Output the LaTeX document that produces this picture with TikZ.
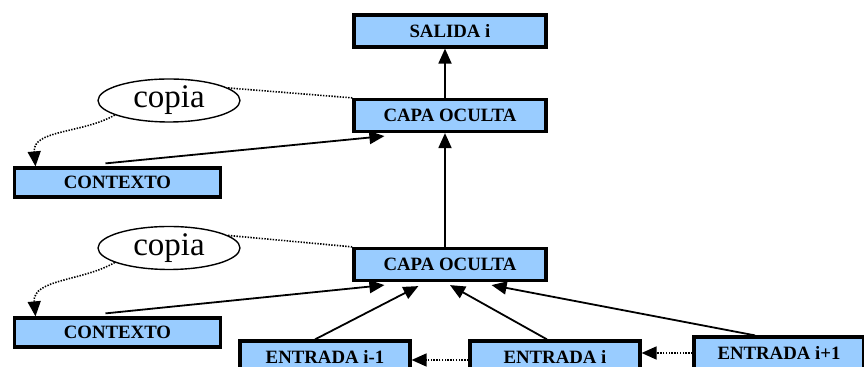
\documentclass[tikz,border=0pt]{standalone}
\usepackage{fontspec}
\setmainfont{Liberation Serif}
\usetikzlibrary{shapes.geometric, arrows.meta, positioning}
\definecolor{layerblue}{RGB}{153,204,255}
\tikzset{
  layerbox/.style={
    draw=black, fill=layerblue, line width=1.6pt,
    minimum width=96pt, minimum height=16pt, inner sep=0pt,
    font=\fontsize{9.4}{10}\selectfont\bfseries
  },
  ctxbox/.style={
    layerbox, minimum width=103pt, minimum height=14.5pt
  },
  inbox/.style={
    layerbox, minimum width=85pt, minimum height=16pt
  },
  copybubble/.style={
    ellipse, draw=black, line width=0.7pt, minimum width=71pt,
    minimum height=21.5pt, inner sep=0pt,
    font=\fontsize{16.5}{18}\selectfont
  },
  netarrow/.style={
    -{Triangle[length=7.5pt,width=6.5pt]}, line width=0.9pt
  },
  copyline/.style={
    dash pattern=on 0.7pt off 0.7pt, line width=0.8pt
  },
  copyarrow/.style={
    copyline, -{Triangle[length=7.5pt,width=6.5pt]}
  },
}
\begin{document}
\begin{tikzpicture}[x=0.5pt,y=-0.5pt]
  \useasboundingbox (0,0) rectangle (864,367);

  %% Layers
  \node[layerbox] (sal) at (450,31) {SALIDA i};
  \node[layerbox] (cap1) at (450,115.5) {CAPA OCULTA};
  \node[layerbox] (cap2) at (450,264.5) {CAPA OCULTA};

  %% Context units
  \node[ctxbox] (ctx1) at (117.5,182.5) {CONTEXTO};
  \node[ctxbox] (ctx2) at (117.5,332.5) {CONTEXTO};
  \node[copybubble] (cop1) at (169,100.5) {copia};
  \node[copybubble] (cop2) at (169,248) {copia};

  %% Inputs
  \node[inbox] (ent1) at (325,357) {ENTRADA i-1};
  \node[inbox] (ent2) at (555,357) {ENTRADA i};
  \node[inbox] (ent3) at (779,353) {ENTRADA i+1};

  %% Forward connections
  \draw[netarrow] ([xshift=-2.5pt]cap1.north) -- ([xshift=-2.5pt]sal.south);
  \draw[netarrow] ([xshift=-2.5pt]cap2.north) -- ([xshift=-2.5pt]cap1.south);
  \draw[netarrow] ([xshift=-6pt,yshift=1.5pt]ctx1.north) -- ([xshift=16pt,yshift=-1.5pt]cap1.south west);
  \draw[netarrow] ([xshift=-6pt,yshift=1.5pt]ctx2.north) -- ([xshift=16pt,yshift=-1.5pt]cap2.south west);
  \draw[netarrow] ([xshift=-5pt]ent1.north) -- ([xshift=33pt,yshift=-2pt]cap2.south west);
  \draw[netarrow] ([xshift=-4pt]ent2.north) -- ([yshift=-1.5pt]cap2.south);
  \draw[netarrow] ([xshift=-12pt]ent3.north) -- ([xshift=-28pt,yshift=-1.5pt]cap2.south east);

  %% Copy connections
  \draw[copyline] (cop1.12) -- (cap1.north west);
  \draw[copyline] (cop2.12) -- (cap2.north west);
  \draw[copyarrow] (cop1.195) to[out=210,in=95] ([xshift=-41pt]ctx1.north);
  \draw[copyarrow] (cop2.195) to[out=210,in=95] ([xshift=-41pt]ctx2.north);
  \draw[copyarrow] ([yshift=-1.5pt]ent2.west) -- ([yshift=-1.5pt]ent1.east);
  \draw[copyarrow] (ent3.west) -- (ent3.west -| ent2.east);

\end{tikzpicture}
\end{document}
